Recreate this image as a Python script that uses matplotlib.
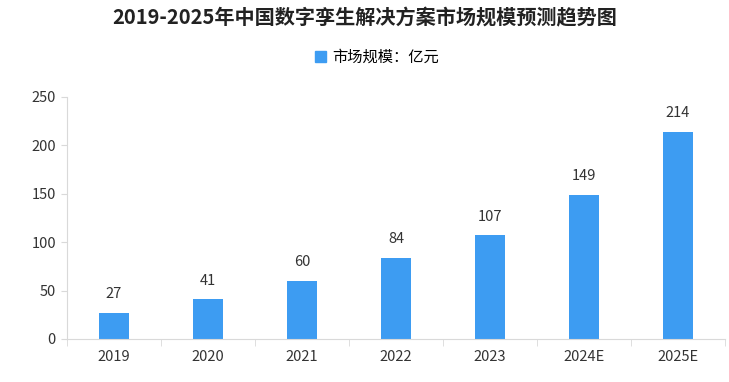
import matplotlib
matplotlib.use("Agg")
import matplotlib.pyplot as plt
from matplotlib.patches import Patch

plt.rcParams['font.family'] = ['Noto Sans CJK SC', 'DejaVu Sans']

categories = ["2019", "2020", "2021", "2022", "2023", "2024E", "2025E"]
values = [27, 41, 60, 84, 107, 149, 214]
yticks = [0, 50, 100, 150, 200, 250]
title = "2019-2025年中国数字孪生解决方案市场规模预测趋势图"
series_name = "市场规模：亿元"

bar_color = "#3d9cf2"
fig = plt.figure(figsize=(7.29, 3.82), dpi=100)
ax = fig.add_axes([67/729, 1-339/382, (725-67)/729, (339-97)/382])

x = list(range(len(categories)))
ax.bar(x, values, width=0.32, color=bar_color, zorder=2)
for xi, v in zip(x, values):
    ax.text(xi, v + 12, str(v), ha="center", va="bottom", fontsize=10.5, color="#333333")

ax.set_xlim(-0.5, len(categories) - 0.5)
ax.set_ylim(0, 250)
ax.set_yticks(yticks)
ax.set_yticklabels([str(t) for t in yticks], fontsize=10.5, color="#333333")
ax.set_xticks(x)
ax.set_xticklabels(categories, fontsize=10.5, color="#333333")
ax.tick_params(axis="x", length=0, pad=8)
ax.set_xticks([i + 0.5 for i in range(-1, len(categories))], minor=True)
ax.tick_params(axis="x", which="minor", length=5, color="#d9d9d9")
ax.tick_params(axis="y", length=4, color="#d9d9d9", pad=4)

for s in ["top", "right"]:
    ax.spines[s].set_visible(False)
for s in ["left", "bottom"]:
    ax.spines[s].set_color("#d9d9d9")

fig.text(365/729, 1-18/382, title, ha="center", va="center", fontsize=14.5, fontweight="bold", color="#222222")
fig.legend(handles=[Patch(color=bar_color)], labels=[series_name], loc="center",
           bbox_to_anchor=(377/729, 1-57/382), frameon=False, fontsize=11,
           handlelength=0.7, handleheight=0.7, handletextpad=0.4)

fig.savefig("out.png", dpi=100)
